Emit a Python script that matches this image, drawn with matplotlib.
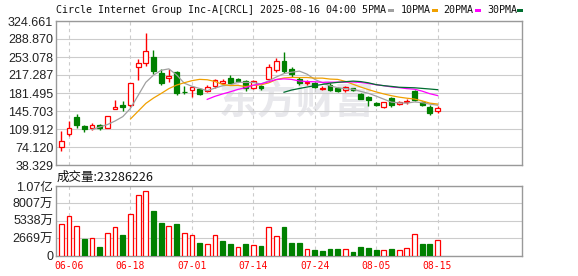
import matplotlib
matplotlib.use('Agg')
import matplotlib.pyplot as plt
from matplotlib.patches import Rectangle
import numpy as np
import pandas as pd

plt.rcParams['font.family'] = ['Liberation Sans', 'Noto Sans CJK SC', 'DejaVu Sans']

# daily K-line data, CRCL, 2025-06-05 .. 2025-08-15
dates = ['06-05', '06-06', '06-09', '06-10', '06-11', '06-12', '06-13', '06-16', '06-17', '06-18',
         '06-20', '06-23', '06-24', '06-25', '06-26', '06-27', '06-30', '07-01', '07-02', '07-03',
         '07-07', '07-08', '07-09', '07-10', '07-11', '07-14', '07-15', '07-16', '07-17', '07-18',
         '07-21', '07-22', '07-23', '07-24', '07-25', '07-28', '07-29', '07-30', '07-31', '08-01',
         '08-04', '08-05', '08-06', '08-07', '08-08', '08-11', '08-12', '08-13', '08-14', '08-15']
opens = [73.5, 100.8, 134.0, 116.4, 111.2, 118.4, 112.5, 150.3, 158.0, 156.8,
         232.9, 241.4, 252.4, 220.5, 211.4, 223.8, 184.0, 188.0, 190.0, 184.8,
         195.8, 202.3, 210.8, 210.1, 205.6, 191.9, 194.5, 208.8, 227.0, 245.9,
         228.3, 210.1, 201.0, 201.0, 189.5, 197.8, 190.6, 186.7, 190.6, 180.2,
         173.7, 162.0, 152.8, 171.1, 160.0, 163.3, 186.0, 163.3, 154.2, 145.7]
highs = [106.0, 126.2, 140.5, 117.7, 121.6, 120.3, 135.9, 168.5, 165.9, 202.3,
         249.2, 301.2, 266.1, 228.3, 229.6, 225.1, 194.5, 194.5, 191.3, 196.7,
         210.1, 209.2, 216.6, 211.0, 208.2, 207.5, 197.0, 240.1, 251.1, 263.5,
         232.9, 212.5, 207.0, 203.6, 194.5, 200.5, 192.6, 195.8, 192.0, 182.2,
         175.0, 163.9, 164.5, 173.7, 166.0, 169.0, 188.0, 166.0, 156.8, 154.8]
lows = [67.0, 95.6, 111.2, 104.7, 108.0, 108.6, 112.0, 149.0, 146.4, 153.5,
        206.9, 234.9, 218.6, 197.8, 203.6, 177.6, 179.5, 174.3, 178.2, 183.5,
        191.3, 198.6, 200.4, 203.0, 185.4, 188.7, 187.0, 207.5, 223.8, 220.5,
        214.0, 196.5, 197.8, 190.6, 187.4, 186.0, 182.8, 184.0, 186.0, 169.8,
        156.1, 155.5, 152.0, 154.2, 157.0, 160.5, 164.6, 155.5, 138.6, 141.8]
closes = [86.5, 111.2, 117.7, 109.9, 118.4, 112.5, 135.3, 153.5, 152.9, 200.4,
          241.4, 265.4, 225.1, 201.0, 214.7, 182.1, 182.6, 193.9, 179.5, 192.6,
          207.5, 206.2, 202.3, 205.6, 191.3, 206.2, 191.3, 233.5, 244.6, 225.1,
          219.5, 202.3, 203.6, 192.6, 191.9, 187.4, 184.8, 193.2, 187.4, 170.4,
          168.5, 156.8, 163.3, 157.4, 163.3, 166.5, 167.8, 156.8, 142.5, 152.3]
# volume in 万 shares
volumes = [4773, 6005, 4466, 2515, 2618, 1283, 3388, 4312, 3131, 6314,
           9240, 9856, 6827, 4979, 4466, 4825, 3388, 3080, 1899, 1694,
           3080, 2207, 1745, 1232, 1745, 1540, 1437, 4312, 2926, 4363,
           1899, 1899, 975, 821, 667, 975, 975, 975, 513, 1283,
           1129, 821, 821, 975, 821, 1129, 3233, 1745, 1745, 2328.6226]

tick_dates = ['06-06', '06-18', '07-01', '07-14', '07-24', '08-05', '08-15']
price_labels = ['38.329', '74.120', '109.912', '145.703', '181.495',
                '217.287', '253.078', '288.870', '324.661']
vol_ticks = [0, 2669, 5338, 8007, 10676]
vol_labels = ['0', '2669万', '5338万', '8007万', '1.07亿']
ma_names = ['5PMA', '10PMA', '20PMA', '30PMA']
ma_periods = [5, 10, 20, 30]
ma_colors = ['#a0a0a0', '#f0a000', '#ff00ff', '#006e30']

RED = '#ff0000'
GREEN = '#008000'
FRAME = '#999999'
GRID = '#cccccc'

opens = np.array(opens)
highs = np.array(highs)
lows = np.array(lows)
closes = np.array(closes)
volumes = np.array(volumes)
x = np.arange(len(dates))

W, H = 578, 276
fig = plt.figure(figsize=(W / 100, H / 100), dpi=100)
ax = fig.add_axes([56 / W, 1 - 165 / H, 466 / W, 144 / H])
ax2 = fig.add_axes([56 / W, 1 - 255.5 / H, 466 / W, 69.5 / H])

tick_pos = [dates.index(d) for d in tick_dates]

for a in (ax, ax2):
    a.set_xlim(-0.7, 60)
    a.set_xticks(tick_pos)
    a.grid(axis='x', color=GRID, ls=(0, (3, 3)), lw=0.8)
    a.grid(axis='y', color=GRID, ls='-', lw=0.8)
    a.set_axisbelow(True)
    for s in a.spines.values():
        s.set_color(FRAME)
        s.set_linewidth(1.0)
    a.tick_params(length=0, pad=2, labelsize=9, labelcolor='#222222')

# watermark
ax.text(0.515, 0.43, '东方财富', transform=ax.transAxes, ha='center', va='center',
        fontsize=28, fontweight='bold', color='#e8e8ec', family='Noto Sans CJK SC', zorder=0)

# candles
up = closes >= opens
ccol = np.where(up, RED, GREEN)
ax.vlines(x, lows, highs, colors=ccol, lw=1, zorder=3)
body = np.maximum(np.abs(closes - opens), 0.5)
ax.bar(x, body, 0.62, bottom=np.minimum(opens, closes),
       color=np.where(up, 'white', GREEN), edgecolor=ccol, linewidth=0.9, zorder=4)

# moving averages
cs = pd.Series(closes)
for n, c in zip(ma_periods, ma_colors):
    ax.plot(x, cs.rolling(n).mean(), color=c, lw=0.9, zorder=5)

price_ticks = [float(s) for s in price_labels]
ax.set_ylim(price_ticks[0], price_ticks[-1])
ax.set_yticks(price_ticks)
ax.set_yticklabels(price_labels)
ax.set_xticklabels([])

# volume
prev = np.concatenate([[opens[0]], closes[:-1]])
vup = closes >= prev
vcol = np.where(vup, RED, GREEN)
ax2.bar(x, volumes, 0.62, color=np.where(vup, 'white', GREEN), edgecolor=vcol,
        linewidth=0.9, zorder=3)
ax2.set_ylim(vol_ticks[0], vol_ticks[-1])
ax2.set_yticks(vol_ticks)
ax2.set_yticklabels(vol_labels)
ax2.set_xticklabels(tick_dates, family='DejaVu Sans Mono', fontsize=7, color=RED)
ax2.tick_params(axis='x', pad=4, labelcolor=RED)

# title line with MA legend
fig.text(56 / W, 1 - 10 / H, 'Circle Internet Group Inc-A[CRCL] 2025-08-16 04:00 ' + ma_names[0],
         family='DejaVu Sans Mono', fontsize=7.2, va='center', ha='left', color='#111111')
label_x = [None, 401, 443, 487]
dash_x = [388, 432, 475, 517]
for i in range(4):
    if label_x[i] is not None:
        fig.text(label_x[i] / W, 1 - 10 / H, ma_names[i], family='DejaVu Sans Mono',
                 fontsize=7.2, va='center', ha='left', color='#111111')
    fig.add_artist(Rectangle((dash_x[i] / W, 1 - 12 / H), 6 / W, 3 / H,
                             transform=fig.transFigure, color=ma_colors[i], lw=0))

fig.text(57 / W, 1 - 177.5 / H, '成交量:%d' % round(volumes[-1] * 1e4),
         family=['Noto Sans CJK SC', 'DejaVu Sans'], fontsize=9, va='center', ha='left',
         color='#111111')

fig.savefig('out.png', dpi=100)
